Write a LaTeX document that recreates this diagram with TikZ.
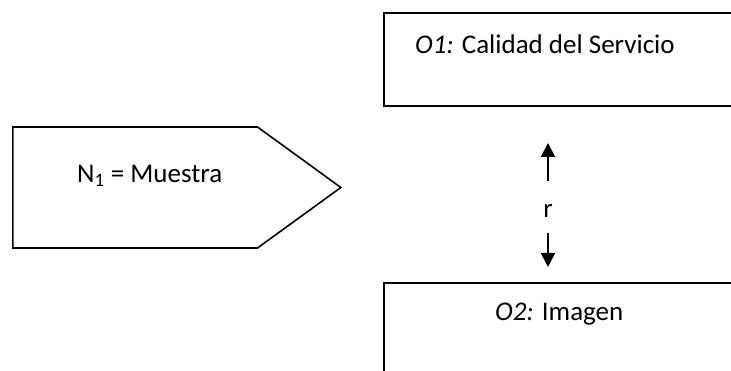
\documentclass[tikz,border=0pt]{standalone}
\usepackage{fontspec}
\setmainfont{Carlito}
\usetikzlibrary{positioning, calc, shapes.symbols, arrows.meta}

\tikzset{
    box/.style={draw, line width=1.6pt, minimum width=360pt, minimum height=93pt, inner sep=0pt},
    txt/.style={font=\fontsize{27}{32}\selectfont, inner sep=0pt},
    arr/.style={line width=2pt, -{Triangle[width=14pt, length=14pt]}}
}

\begin{document}
\begin{tikzpicture}[x=1pt, y=-1pt]

    \useasboundingbox (0, 0) rectangle (731, 371);
    \clip (0, 0) rectangle (731, 371);

    \node[draw, line width=1.6pt, signal, signal to=east, signal pointer angle=72,
          minimum width=328pt, minimum height=121pt, inner sep=0pt, anchor=west] (muestra) at (12, 187.5) {};
    \node[txt, anchor=west] (muestratxt) at (77, 176) {N\textsubscript{1} = Muestra};

    \node[box] (o1) at (564, 59.5) {};
    \node[txt, anchor=west] (o1txt) at (415, 44) {\textit{O1:} Calidad del Servicio};

    \node[box] (o2) at (564, 329.5) {};
    \node[txt, anchor=west] (o2txt) at (495, 314) {\textit{O2:} Imagen};

    \node[txt] (r) at (548, 211) {r};
    \coordinate (uptail) at (548, 181);
    \coordinate (uptip) at (548, 143);
    \coordinate (downtail) at (548, 233);
    \coordinate (downtip) at (548, 267);

    \draw[arr] (uptail) -- (uptip);
    \draw[arr] (downtail) -- (downtip);

\end{tikzpicture}
\end{document}
